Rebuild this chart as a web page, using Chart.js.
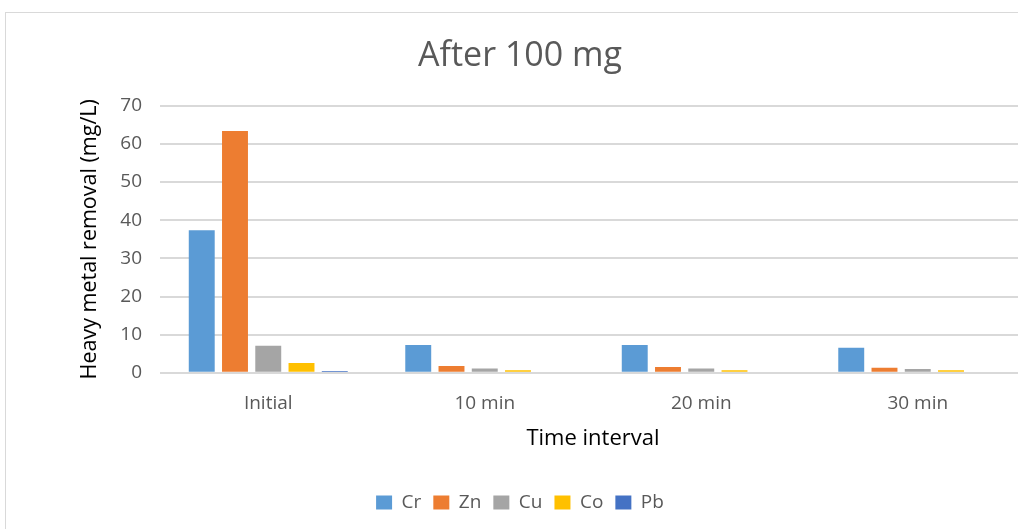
<!DOCTYPE html>
<html>
<head>
<meta charset="utf-8">
<script src="https://cdn.jsdelivr.net/npm/chart.js@4"></script>
<style>
  html, body { margin: 0; padding: 0; background: #fff; overflow: hidden; }
  #wrap { position: relative; width: 1018px; height: 529px; overflow: hidden; }
  #frame { position: absolute; left: 5px; top: 12px; width: 1100px; height: 600px;
           border-left: 1px solid #d9d9d9; border-top: 1px solid #d9d9d9; }
  #box { position: absolute; left: 0; top: 0; width: 1026px; height: 529px; }
</style>
</head>
<body>
<div id="wrap">
  <div id="frame"></div>
  <div id="box"><canvas id="chart"></canvas></div>
</div>
<script>
const categories = ["Initial", "10 min", "20 min", "30 min"];
const cr = [37.4, 7.3, 7.3, 6.6];
const zn = [63.4, 1.8, 1.5, 1.3];
const cu = [7.1, 1.1, 1.1, 1.0];
const co = [2.6, 0.7, 0.7, 0.7];
const pb = [0.5, 0, 0, 0];
const seriesNames = ["Cr", "Zn", "Cu", "Co", "Pb"];
const seriesColors = ["#5b9bd5", "#ed7d31", "#a5a5a5", "#ffc000", "#4472c4"];
const yTicks = [0, 70, 10];

const fontFamily = "'Open Sans', 'Noto Sans', sans-serif";

const datasets = [cr, zn, cu, co, pb].map((data, i) => ({
    label: seriesNames[i],
    data: data,
    backgroundColor: seriesColors[i],
    borderWidth: 0,
    barPercentage: 0.78,
    categoryPercentage: 0.768,
}));

new Chart(document.getElementById("chart"), {
    type: "bar",
    data: { labels: categories, datasets: datasets },
    options: {
        responsive: true,
        maintainAspectRatio: false,
        animation: false,
        layout: { padding: { left: 14, right: 0, top: 36, bottom: 7 } },
        plugins: {
            title: {
                display: true,
                text: "After 100 mg",
                color: "#595959",
                font: { family: fontFamily, size: 34, weight: "normal" },
                padding: { top: 0, bottom: 29 },
            },
            legend: {
                position: "bottom",
                labels: {
                    color: "#595959",
                    font: { family: fontFamily, size: 19 },
                    boxWidth: 16,
                    boxHeight: 14,
                    padding: 12,
                },
            },
            tooltip: { enabled: false },
        },
        scales: {
            x: {
                grid: { display: false },
                border: { display: false },
                ticks: { color: "#595959", font: { family: fontFamily, size: 19 }, padding: 11 },
                title: {
                    display: true,
                    text: "Time interval",
                    color: "#000",
                    font: { family: fontFamily, size: 22 },
                    padding: { top: 0, bottom: 29 },
                },
            },
            y: {
                min: yTicks[0],
                max: yTicks[1],
                afterFit: (scale) => { scale.width = 146; },
                ticks: { stepSize: yTicks[2], color: "#595959", font: { family: fontFamily, size: 19 }, padding: 18 },
                grid: { color: "#d9d9d9", lineWidth: 2, drawTicks: false },
                border: { display: false },
                title: {
                    display: true,
                    text: "Heavy metal removal (mg/L)",
                    color: "#000",
                    font: { family: fontFamily, size: 21.5 },
                    padding: { top: 63, bottom: 0 },
                },
            },
        },
    },
});
</script>
</body>
</html>
